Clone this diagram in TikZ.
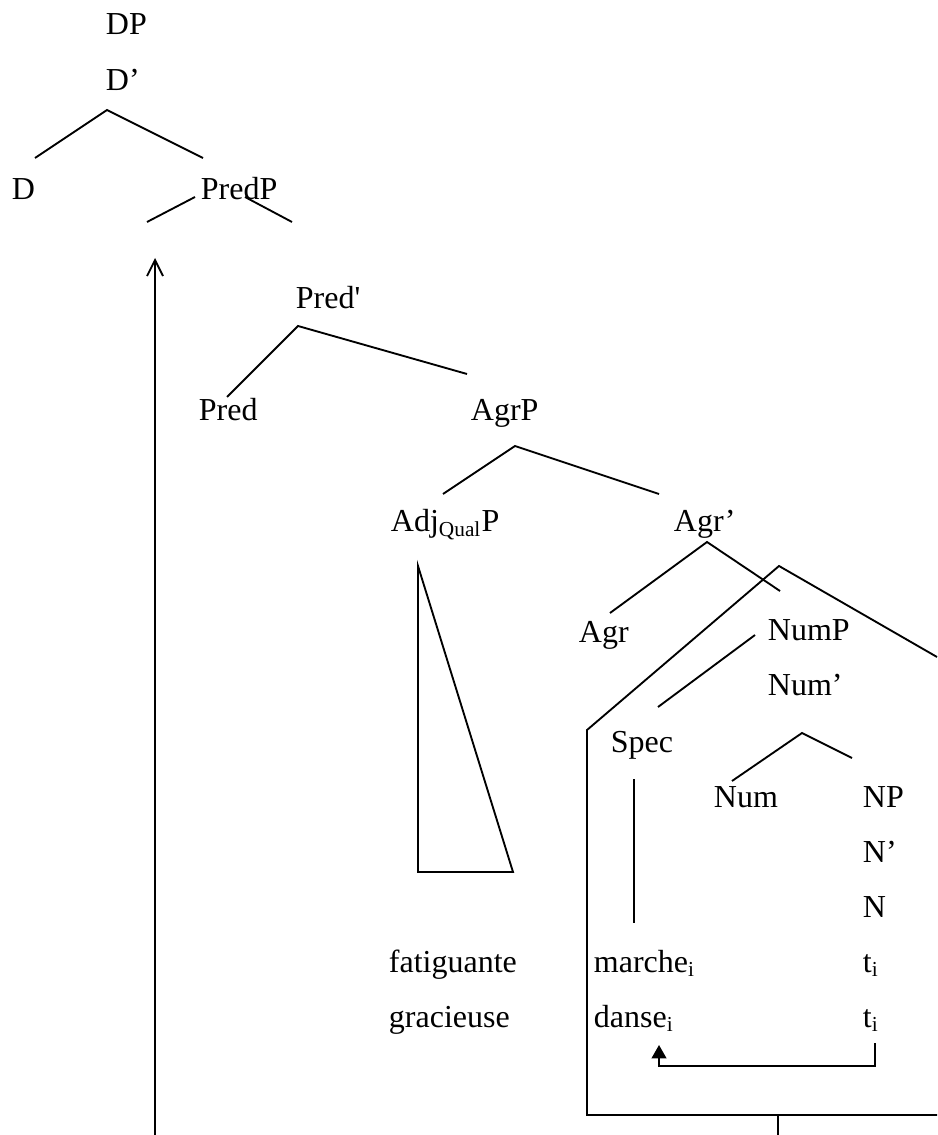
\documentclass[tikz,border=0pt]{standalone}
\usepackage{fontspec}
\setmainfont{Liberation Serif}
\usetikzlibrary{arrows.meta}
\tikzset{
  lbl/.style={anchor=base west, inner sep=0pt, font=\fontsize{12}{14}\selectfont},
}
\begin{document}
\begin{tikzpicture}[x=0.375pt, y=-0.375pt, line width=0.7pt]
        \useasboundingbox (0,0) rectangle (937,1135);
        % labels of the tree
        \node[lbl] (dp)     at (105,  35) {DP};
        \node[lbl] (dbar)   at (105,  91) {D’};
        \node[lbl] (d)      at ( 11, 200) {D};
        \node[lbl] (predp)  at (200, 200) {PredP};
        \node[lbl] (predbar) at (295, 309) {Pred\textquotesingle};
        \node[lbl] (pred)   at (198, 421) {Pred};
        \node[lbl] (agrp)   at (470, 421) {AgrP};
        \node[lbl] (adjp)   at (390, 532) {Adj\textsubscript{Qual}P};
        \node[lbl] (agrbar) at (673, 532) {Agr’};
        \node[lbl] (agr)    at (578, 642) {Agr};
        \node[lbl] (nump)   at (767, 640) {NumP};
        \node[lbl] (numbar) at (767, 695) {Num’};
        \node[lbl] (spec)   at (610, 752) {Spec};
        \node[lbl] (num)    at (713, 807) {Num};
        \node[lbl] (np)     at (862, 807) {NP};
        \node[lbl] (nbar)   at (862, 862) {N’};
        \node[lbl] (n)      at (862, 917) {N};
        \node[lbl] (fatig)  at (388, 972) {fatiguante};
        \node[lbl] (grac)   at (388,1027) {gracieuse};
        \node[lbl] (marche) at (593, 972) {marche\textsubscript{i}};
        \node[lbl] (danse)  at (593,1027) {danse\textsubscript{i}};
        \node[lbl] (tone)   at (862, 972) {t\textsubscript{i}};
        \node[lbl] (ttwo)   at (862,1027) {t\textsubscript{i}};
        % coordinates for the branches
        \coordinate (dbartop)     at (107, 110);
        \coordinate (dbarleft)    at ( 35, 158);
        \coordinate (dbarright)   at (203, 158);
        \coordinate (predpleftin) at (195, 197);
        \coordinate (predpleft)   at (147, 222);
        \coordinate (predprightin) at (245, 197);
        \coordinate (predpright)  at (292, 222);
        \coordinate (predbartop)  at (298, 326);
        \coordinate (predbarleft) at (227, 397);
        \coordinate (predbarright) at (467, 374);
        \coordinate (agrptop)     at (515, 446);
        \coordinate (agrpleft)    at (443, 494);
        \coordinate (agrpright)   at (659, 494);
        \coordinate (agrbartop)   at (707, 542);
        \coordinate (agrbarleft)  at (610, 613);
        \coordinate (agrbarright) at (780, 591);
        \coordinate (numptop)     at (755, 635);
        \coordinate (numpleft)    at (658, 707);
        \coordinate (numbartop)   at (802, 733);
        \coordinate (numbarleft)  at (732, 781);
        \coordinate (numbarright) at (852, 758);
        \coordinate (spectop)     at (634, 779);
        \coordinate (specbottom)  at (634, 923);
        % coordinates for the triangle of AdjQualP
        \coordinate (triangletop)   at (418, 566);
        \coordinate (triangleleft)  at (418, 872);
        \coordinate (triangleright) at (513, 872);
        % coordinates for the box round NumP
        \coordinate (boxright)       at (937, 657);
        \coordinate (boxtop)         at (779, 566);
        \coordinate (boxtopleft)     at (587, 730);
        \coordinate (boxbottomleft)  at (587,1115);
        \coordinate (boxbottomright) at (937,1115);
        \coordinate (boxstem)        at (778,1115);
        \coordinate (boxstemend)     at (778,1135);
        % coordinates for the movements
        \coordinate (tracestart)  at (875,1043);
        \coordinate (traceright)  at (875,1066);
        \coordinate (traceleft)   at (659,1066);
        \coordinate (traceend)    at (659,1045);
        \coordinate (raisebottom) at (155,1135);
        \coordinate (raisetop)    at (155, 258);
        % drawing the branches
        \draw (dbarleft)    -- (dbartop)     -- (dbarright);
        \draw (predpleft)   -- (predpleftin);
        \draw (predprightin) -- (predpright);
        \draw (predbarleft) -- (predbartop)  -- (predbarright);
        \draw (agrpleft)    -- (agrptop)     -- (agrpright);
        \draw (agrbarleft)  -- (agrbartop)   -- (agrbarright);
        \draw (numptop)     -- (numpleft);
        \draw (numbarleft)  -- (numbartop)   -- (numbarright);
        \draw (spectop)     -- (specbottom);
        % drawing the triangle and the box
        \draw (triangletop) -- (triangleleft) -- (triangleright) -- cycle;
        \draw (boxright) -- (boxtop) -- (boxtopleft) -- (boxbottomleft) -- (boxbottomright);
        \draw (boxstem) -- (boxstemend);
        % drawing the movements
        \draw[-{Triangle[length=5pt, width=5.5pt]}] (tracestart) -- (traceright) -- (traceleft) -- (traceend);
        \draw[-{Straight Barb[length=6pt, width=6pt]}] (raisebottom) -- (raisetop);
\end{tikzpicture}
\end{document}
